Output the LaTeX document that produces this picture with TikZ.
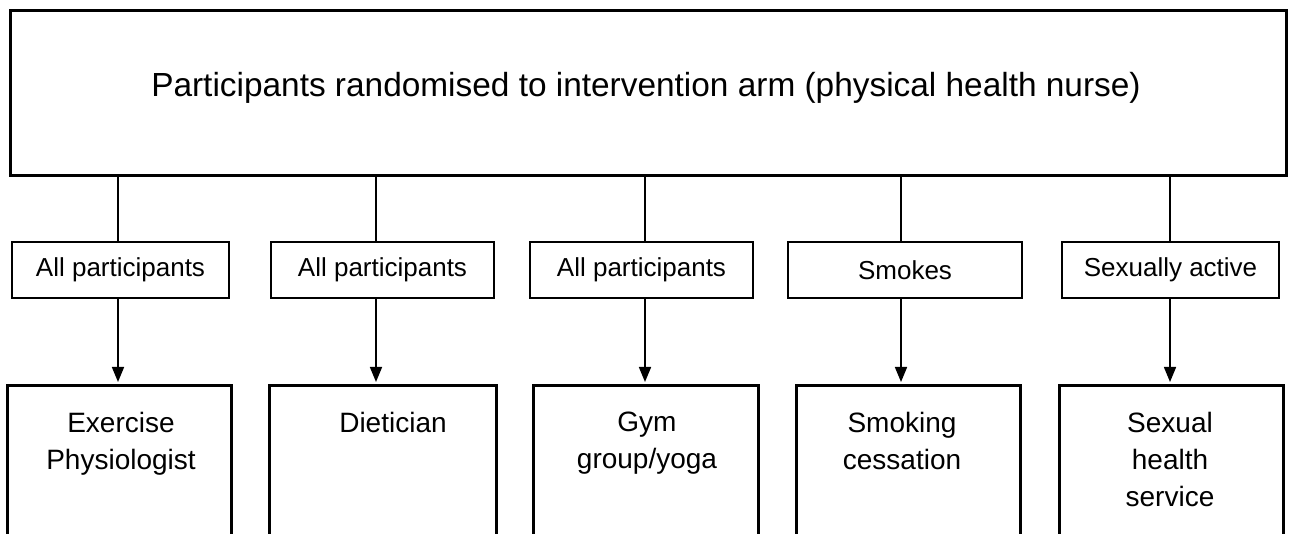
\documentclass[tikz,border=0pt]{standalone}
\usepackage{fontspec}
\setmainfont{Liberation Sans}
\usetikzlibrary{arrows.meta}
\begin{document}
\begin{tikzpicture}[x=1pt,y=-1pt,
  topbox/.style={draw, line width=3pt, inner sep=0pt},
  condbox/.style={draw, line width=2.8pt, inner sep=0pt, font=\fontsize{26}{30}\selectfont},
  servbox/.style={draw, line width=3pt, inner sep=0pt},
  servtext/.style={anchor=north, align=center, inner sep=0pt, font=\fontsize{28}{37}\selectfont},
  link/.style={line width=1.6pt},
  arrowlink/.style={line width=1.6pt, -{Triangle[length=15pt,width=12pt]}, shorten >=2pt}]
\useasboundingbox (0,0) rectangle (1290,534);
\clip (0,0) rectangle (1290,534);
% top box
\node[topbox, minimum width=1276pt, minimum height=165pt] (top) at (648,93.5) {};
\node[inner sep=0pt, font=\fontsize{33.4}{40}\selectfont] (toptext) at (646,88) {Participants randomised to intervention arm (physical health nurse)};
% condition boxes
\node[condbox, minimum width=217pt, minimum height=56pt] (m1) at (120.5,270) {All participants};
\node[condbox, minimum width=223pt, minimum height=56pt] (m2) at (382.5,270) {All participants};
\node[condbox, minimum width=223pt, minimum height=56pt] (m3) at (641.5,270) {All participants};
\node[condbox, minimum width=234pt, minimum height=56pt] (m4) at (905,270) {Smokes};
\node[condbox, minimum width=217pt, minimum height=56pt] (m5) at (1170.5,270) {Sexually active};
% service boxes (extend below the visible area)
\node[servbox, minimum width=224pt, minimum height=200pt, anchor=north] (b1) at (119,384) {};
\node[servbox, minimum width=227pt, minimum height=200pt, anchor=north] (b2) at (382.5,384) {};
\node[servbox, minimum width=225pt, minimum height=200pt, anchor=north] (b3) at (645.5,384) {};
\node[servbox, minimum width=224pt, minimum height=200pt, anchor=north] (b4) at (908,384) {};
\node[servbox, minimum width=224pt, minimum height=200pt, anchor=north] (b5) at (1171,384) {};
\node[servtext] (t1) at (121,412) {Exercise\\Physiologist};
\node[servtext] (t2) at (393,412) {Dietician};
\node[servtext] (t3) at (647,412) {Gym\\group/yoga};
\node[servtext] (t4) at (902,412) {Smoking\\cessation};
\node[servtext] (t5) at (1170,412) {Sexual\\health\\service};
% connector x positions
\coordinate (c1) at (118,0);
\coordinate (c2) at (376,0);
\coordinate (c3) at (645,0);
\coordinate (c4) at (901,0);
\coordinate (c5) at (1170,0);
\foreach \i in {1,...,5}{
  \draw[link] (top.south -| c\i) -- (m\i.north -| c\i);
  \draw[arrowlink] (m\i.south -| c\i) -- (b\i.north -| c\i);
}
\end{tikzpicture}
\end{document}
